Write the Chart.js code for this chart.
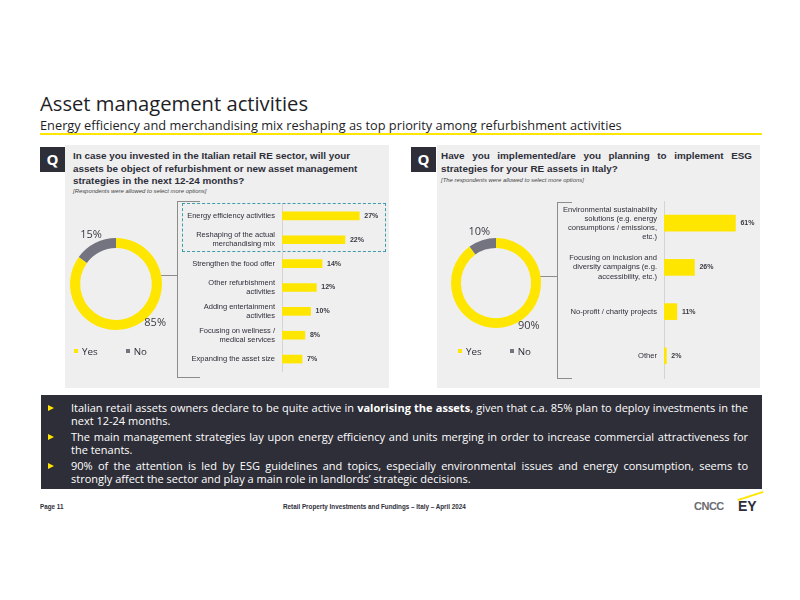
<!DOCTYPE html>
<html>
<head>
<meta charset="utf-8">
<script src="https://cdn.jsdelivr.net/npm/chart.js@4.4.1/dist/chart.umd.min.js"></script>
<style>
  body { margin: 0; background: #fff; }
  #page { position: relative; width: 800px; height: 600px; overflow: hidden; font-family: "Open Sans", "Liberation Sans", sans-serif; color: #2e2e38; }
  .abs { position: absolute; }
  #title { left: 40px; top: 89px; font-size: 20.2px; white-space: nowrap; color: #1e1e26; }
  #subtitle { left: 40px; top: 116px; font-size: 12.8px; white-space: nowrap; color: #1e1e26; }
  #rule { left: 40px; top: 133px; width: 722px; height: 2px; background: #ffe600; }
  .panel { background: #efeff0; top: 145px; height: 243px; }
  .qbox { width: 25px; height: 25px; top: 147px; background: #2e2e38; color: #fff; font-weight: bold; font-size: 15px; line-height: 25px; text-align: center; }
  .question { font-family: "Liberation Sans", Arial, sans-serif; font-weight: bold; font-size: 9.9px; line-height: 12.5px; color: #2e2e38; }
  .note { font-family: "Liberation Sans", Arial, sans-serif; font-style: italic; font-size: 5.9px; color: #444; }
  .legend { font-size: 9.8px; color: #2e2e38; white-space: nowrap; }
  .legend span.sq { display: inline-block; width: 4px; height: 4px; margin-right: 4px; vertical-align: middle; position: relative; top: -1px; }
  .legend span.item { display: inline-block; }
  .line { background: #8c8c8c; }
  #takeaways { left: 41px; top: 395px; width: 721px; height: 94px; background: #2e2e38; color: #fff; box-sizing: border-box; padding: 6px 14px 0 30px; font-size: 11px; line-height: 13.3px; }
  #takeaways p { margin: 0 0 2.5px 0; text-align: justify; position: relative; }
  #takeaways p::before { content: ""; position: absolute; left: -23px; top: 4px; border-left: 6px solid #ffe600; border-top: 3px solid transparent; border-bottom: 3px solid transparent; }
  .foot { top: 503px; font-size: 6.3px; font-weight: bold; color: #2e2e38; font-family: "Liberation Sans", Arial, sans-serif; }
</style>
</head>
<body>
<div id="page">
  <div id="title" class="abs">Asset management activities</div>
  <div id="subtitle" class="abs">Energy efficiency and merchandising mix reshaping as top priority among refurbishment activities</div>
  <div id="rule" class="abs"></div>

  <div class="abs panel" style="left:65px;width:324px;"></div>
  <div class="abs panel" style="left:437px;width:323px;"></div>

  <div class="abs qbox" style="left:40px;">Q</div>
  <div class="abs qbox" style="left:411px;">Q</div>

  <div class="abs question" style="left:73px;top:150px;width:292px;">In case you invested in the Italian retail RE sector, will your assets be object of refurbishment or new asset management strategies in the next 12-24 months?</div>
  <div class="abs note" style="left:73px;top:188px;">[Respondents were allowed to select more options]</div>

  <div class="abs question" style="left:441px;top:150px;width:311px;text-align:justify;text-align-last:left;">Have you implemented/are you planning to implement ESG strategies for your RE assets in Italy?</div>
  <div class="abs note" style="left:441px;top:177px;">[The respondents were allowed to select more options]</div>

  <!-- connectors and brackets -->
  <div class="abs line" style="left:157px;top:275px;width:20px;height:1px;"></div>
  <div class="abs line" style="left:177px;top:201px;width:1px;height:177px;"></div>
  <div class="abs line" style="left:177px;top:201px;width:23px;height:1px;"></div>
  <div class="abs line" style="left:177px;top:377px;width:23px;height:1px;"></div>

  <div class="abs line" style="left:536px;top:276px;width:21px;height:1px;"></div>
  <div class="abs line" style="left:557px;top:202px;width:1px;height:177px;"></div>
  <div class="abs line" style="left:557px;top:202px;width:15px;height:1px;"></div>
  <div class="abs line" style="left:557px;top:378px;width:15px;height:1px;"></div>

  <div class="abs" style="left:182px;top:203px;width:202px;height:47px;border:1.5px dashed #3f9dab;"></div>

  <canvas id="investDonut" class="abs" width="140" height="140" style="left:46px;top:214px;"></canvas>
  <canvas id="esgDonut" class="abs" width="140" height="140" style="left:426px;top:213px;"></canvas>
  <canvas id="refurbBars" class="abs" width="205" height="207" style="left:180px;top:184px;"></canvas>
  <canvas id="esgBars" class="abs" width="200" height="237" style="left:560px;top:171px;"></canvas>

  <div id="investLegend" class="abs legend" style="left:74px;top:345px;"></div>
  <div id="esgLegend" class="abs legend" style="left:458px;top:345px;"></div>

  <div id="takeaways" class="abs">
    <p>Italian retail assets owners declare to be quite active in <b>valorising the assets</b>, given that c.a. 85% plan to deploy investments in the next 12-24 months.</p>
    <p>The main management strategies lay upon energy efficiency and units merging in order to increase commercial attractiveness for the tenants.</p>
    <p>90% of the attention is led by ESG guidelines and topics, especially environmental issues and energy consumption, seems to strongly affect the sector and play a main role in landlords’ strategic decisions.</p>
  </div>

  <div class="abs foot" style="left:40px;">Page 11</div>
  <div class="abs foot" style="left:283px;">Retail Property Investments and Fundings – Italy – April 2024</div>
  <div class="abs" style="left:694px;top:500px;font:bold 11px 'Liberation Sans',Arial,sans-serif;color:#6b6b72;letter-spacing:-0.5px;">CNCC</div>
  <div class="abs" style="left:738px;top:498px;font:bold 14px 'Liberation Sans',Arial,sans-serif;color:#2e2e38;">EY</div>
  <div class="abs" style="left:737px;top:495px;width:27px;height:2px;background:#ffe600;transform:rotate(-18deg);"></div>
</div>

<script>
// DATA
var investLabels = ['Yes', 'No'];
var investValues = [85, 15];

var refurbLabels = [
  ['Energy efficiency activities'],
  ['Reshaping of the actual', 'merchandising mix'],
  ['Strengthen the food offer'],
  ['Other refurbishment', 'activities'],
  ['Adding entertainment', 'activities'],
  ['Focusing on wellness /', 'medical services'],
  ['Expanding the asset size']
];
var refurbValues = [27, 22, 14, 12, 10, 8, 7];

var esgShareLabels = ['Yes', 'No'];
var esgShareValues = [90, 10];

var esgLabels = [
  ['Environmental sustainability', 'solutions (e.g. energy', 'consumptions / emissions,', 'etc.)'],
  ['Focusing on inclusion and', 'diversity campaigns (e.g.', 'accessibility, etc.)'],
  ['No-profit / charity projects'],
  ['Other']
];
var esgValues = [61, 26, 11, 2];

var YELLOW = '#ffe600';
var GREY = '#747480';
var DARK = '#2e2e38';

// draws the % labels round the ring
var donutLabels = {
  id: 'donutLabels',
  afterDatasetsDraw: function(chart, args, opts) {
    var ctx = chart.ctx;
    var meta = chart.getDatasetMeta(0);
    ctx.save();
    ctx.font = '11px "Open Sans", sans-serif';
    ctx.fillStyle = '#3a3a42';
    ctx.textAlign = 'center';
    ctx.textBaseline = 'middle';
    meta.data.forEach(function(arc, i) {
      var a = arc.startAngle + opts.frac[i] * (arc.endAngle - arc.startAngle);
      var r = arc.outerRadius + 9;
      ctx.fillText(chart.data.datasets[0].data[i] + '%', arc.x + Math.cos(a) * r, arc.y + Math.sin(a) * r);
    });
    ctx.restore();
  }
};

// draws the value at the end of each bar
var barValues = {
  id: 'barValues',
  afterDatasetsDraw: function(chart) {
    var ctx = chart.ctx;
    var meta = chart.getDatasetMeta(0);
    ctx.save();
    ctx.font = 'bold 7px "Liberation Sans", Arial, sans-serif';
    ctx.fillStyle = '#3a3a42';
    ctx.textBaseline = 'middle';
    meta.data.forEach(function(bar, i) {
      ctx.fillText(chart.data.datasets[0].data[i] + '%', bar.x + 5, bar.y);
    });
    ctx.restore();
  }
};

function makeDonut(id, labels, values, pad) {
  return new Chart(document.getElementById(id).getContext('2d'), {
    type: 'doughnut',
    data: {
      labels: labels,
      datasets: [{
        data: values,
        backgroundColor: [YELLOW, GREY],
        borderWidth: 0
      }]
    },
    options: {
      responsive: false,
      animation: false,
      cutout: '78%',
      layout: { padding: pad },
      plugins: {
        legend: { display: false },
        tooltip: { enabled: false },
        donutLabels: { frac: [0.44, 0.5] }
      }
    },
    plugins: [donutLabels]
  });
}

function makeBars(id, labels, values, max, thickness, axisWidth, pad, fontSize) {
  return new Chart(document.getElementById(id).getContext('2d'), {
    type: 'bar',
    data: {
      labels: labels,
      datasets: [{
        data: values,
        backgroundColor: YELLOW,
        barThickness: thickness
      }]
    },
    options: {
      indexAxis: 'y',
      responsive: false,
      animation: false,
      layout: { padding: { top: pad, bottom: pad, left: 0, right: 0 } },
      scales: {
        x: { display: false, min: 0, max: max },
        y: {
          grid: { display: false, drawTicks: false },
          border: { display: true, color: '#d4d4d8', width: 1 },
          ticks: {
            padding: 7,
            color: '#2e2e38',
            font: { family: '"Liberation Sans", Arial, sans-serif', size: fontSize, lineHeight: 1.2 }
          },
          afterFit: function(scale) { scale.width = axisWidth; }
        }
      },
      plugins: {
        legend: { display: false },
        tooltip: { enabled: false }
      }
    },
    plugins: [barValues]
  });
}

function makeLegend(id, labels, gap) {
  var el = document.getElementById(id);
  var colours = [YELLOW, GREY];
  labels.forEach(function(l, i) {
    var item = document.createElement('span');
    item.className = 'item';
    item.style.marginRight = gap + 'px';
    item.innerHTML = '<span class="sq" style="background:' + colours[i] + '"></span>' + l;
    el.appendChild(item);
  });
}

makeDonut('investDonut', investLabels, investValues, 24);
makeDonut('esgDonut', esgShareLabels, esgShareValues, 25);
makeBars('refurbBars', refurbLabels, refurbValues, 36, 8, 102, 20, 7.5);
makeBars('esgBars', esgLabels, esgValues, 82, 16, 104, 30, 7.6);
makeLegend('investLegend', investLabels, 28);
makeLegend('esgLegend', esgShareLabels, 28);
</script>
</body>
</html>
